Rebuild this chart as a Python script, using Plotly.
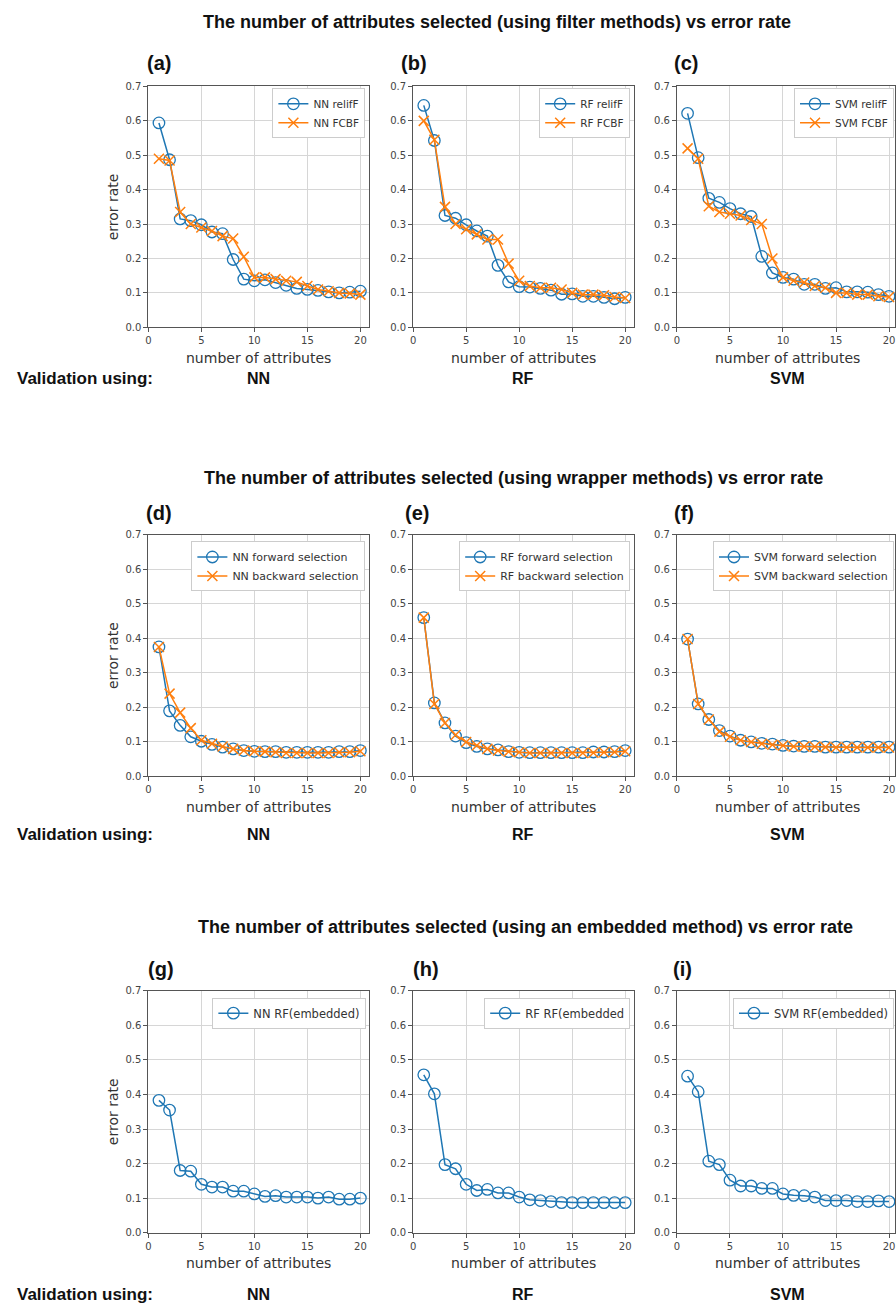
import plotly.graph_objects as go

W, H = 896, 1316

x_attr = list(range(1, 21))

# Row 1: filter methods
nn_relieff = [0.594, 0.487, 0.315, 0.310, 0.298, 0.277, 0.272, 0.197, 0.140, 0.135,
              0.138, 0.130, 0.122, 0.113, 0.110, 0.107, 0.103, 0.100, 0.102, 0.105]
nn_fcbf = [0.490, 0.485, 0.335, 0.300, 0.290, 0.280, 0.265, 0.258, 0.205, 0.145,
           0.145, 0.140, 0.135, 0.132, 0.120, 0.110, 0.105, 0.100, 0.098, 0.095]
rf_relieff = [0.645, 0.543, 0.325, 0.317, 0.298, 0.280, 0.265, 0.180, 0.132, 0.118,
              0.117, 0.113, 0.108, 0.096, 0.097, 0.090, 0.090, 0.087, 0.083, 0.087]
rf_fcbf = [0.600, 0.545, 0.350, 0.300, 0.285, 0.270, 0.255, 0.255, 0.185, 0.135,
           0.120, 0.115, 0.115, 0.110, 0.100, 0.095, 0.095, 0.093, 0.088, 0.085]
svm_relieff = [0.622, 0.493, 0.375, 0.363, 0.345, 0.330, 0.322, 0.206, 0.158, 0.145,
               0.140, 0.125, 0.125, 0.113, 0.115, 0.103, 0.103, 0.102, 0.095, 0.090]
svm_fcbf = [0.520, 0.490, 0.352, 0.335, 0.330, 0.325, 0.312, 0.300, 0.200, 0.145,
            0.135, 0.130, 0.120, 0.115, 0.100, 0.100, 0.095, 0.095, 0.090, 0.088]

# Row 2: wrapper methods
nn_forward = [0.375, 0.190, 0.148, 0.115, 0.102, 0.093, 0.085, 0.080, 0.075, 0.073,
              0.072, 0.072, 0.070, 0.070, 0.070, 0.070, 0.070, 0.072, 0.072, 0.075]
nn_backward = [0.375, 0.240, 0.185, 0.140, 0.105, 0.095, 0.087, 0.080, 0.075, 0.073,
               0.072, 0.070, 0.068, 0.068, 0.068, 0.068, 0.068, 0.070, 0.070, 0.073]
rf_forward = [0.460, 0.213, 0.155, 0.117, 0.098, 0.087, 0.080, 0.077, 0.072, 0.070,
              0.069, 0.069, 0.069, 0.069, 0.069, 0.069, 0.071, 0.071, 0.072, 0.075]
rf_backward = [0.460, 0.210, 0.155, 0.120, 0.100, 0.090, 0.080, 0.075, 0.072, 0.070,
               0.068, 0.068, 0.068, 0.068, 0.068, 0.068, 0.069, 0.070, 0.071, 0.073]
svm_forward = [0.398, 0.210, 0.165, 0.133, 0.117, 0.105, 0.100, 0.096, 0.094, 0.090,
               0.088, 0.087, 0.087, 0.085, 0.085, 0.085, 0.085, 0.085, 0.085, 0.085]
svm_backward = [0.398, 0.210, 0.165, 0.130, 0.115, 0.105, 0.100, 0.095, 0.092, 0.090,
                0.087, 0.087, 0.086, 0.085, 0.084, 0.084, 0.084, 0.084, 0.084, 0.084]

# Row 3: embedded method
nn_embedded = [0.383, 0.355, 0.180, 0.178, 0.140, 0.132, 0.132, 0.120, 0.120, 0.112,
               0.105, 0.107, 0.103, 0.103, 0.103, 0.100, 0.103, 0.097, 0.097, 0.100]
rf_embedded = [0.457, 0.402, 0.197, 0.185, 0.140, 0.122, 0.125, 0.115, 0.115, 0.103,
               0.095, 0.093, 0.090, 0.087, 0.087, 0.087, 0.087, 0.087, 0.087, 0.087]
svm_embedded = [0.453, 0.408, 0.207, 0.197, 0.152, 0.135, 0.135, 0.128, 0.128, 0.112,
                0.108, 0.107, 0.103, 0.093, 0.093, 0.093, 0.090, 0.090, 0.092, 0.090]

row_titles = ["The number of attributes selected (using filter methods) vs error rate",
              "The number of attributes selected (using wrapper methods) vs error rate",
              "The number of attributes selected (using an embedded method) vs error rate"]
panel_letters = ["(a)", "(b)", "(c)", "(d)", "(e)", "(f)", "(g)", "(h)", "(i)"]
validators = ["NN", "RF", "SVM"]
x_ticks = [0, 5, 10, 15, 20]
y_ticks = [0.0, 0.1, 0.2, 0.3, 0.4, 0.5, 0.6, 0.7]

panels = [
    [("NN relifF", nn_relieff), ("NN FCBF", nn_fcbf)],
    [("RF relifF", rf_relieff), ("RF FCBF", rf_fcbf)],
    [("SVM relifF", svm_relieff), ("SVM FCBF", svm_fcbf)],
    [("NN forward selection", nn_forward), ("NN backward selection", nn_backward)],
    [("RF forward selection", rf_forward), ("RF backward selection", rf_backward)],
    [("SVM forward selection", svm_forward), ("SVM backward selection", svm_backward)],
    [("NN RF(embedded)", nn_embedded)],
    [("RF RF(embedded", rf_embedded)],
    [("SVM RF(embedded)", svm_embedded)],
]

BLUE = "#1f77b4"
ORANGE = "#ff7f0e"

# layout geometry (pixels)
PXU = 10.65
col_x0 = [146, 412, 677]
row_y = [(82, 325), (534, 778), (994, 1238)]
title_y = [17, 477, 930]
title_x = [496, 513, 525]
letter_pos = [[(157, 58), (413, 58), (686, 58)],
              [(157, 512), (416, 512), (684, 512)],
              [(159, 972), (425, 972), (683, 972)]]
val_y = [377, 836, 1300]
legend_right = [[364, 630, 895], [364, 630, 895], [365, 630, 895]]
legend_top = [84, 541, 1001]
legend_font = [10.5, 11, 11.5]

def px(xp):
    return xp / W

def py(yp):
    return 1 - yp / H

fig = go.Figure()
layout = {}
annotations = []

for i, series in enumerate(panels):
    r, c = divmod(i, 3)
    n = i + 1
    xa = "xaxis" if n == 1 else f"xaxis{n}"
    ya = "yaxis" if n == 1 else f"yaxis{n}"
    xref = "x" if n == 1 else f"x{n}"
    yref = "y" if n == 1 else f"y{n}"
    lg = "legend" if n == 1 else f"legend{n}"

    x0 = col_x0[c]
    x1 = min(x0 + 20.8 * PXU, W)
    xmax = (x1 - x0) / PXU
    y0p, y1p = row_y[r]

    for k, (name, vals) in enumerate(series):
        if k == 0:
            marker = dict(symbol="circle-open", size=11.5, color=BLUE, line=dict(width=1.3, color=BLUE))
            color = BLUE
        else:
            marker = dict(symbol="x-thin-open", size=10, color=ORANGE, line=dict(width=1.5, color=ORANGE))
            color = ORANGE
        fig.add_trace(go.Scatter(
            x=x_attr, y=vals, name=name, mode="lines+markers",
            line=dict(color=color, width=1.5), marker=marker,
            xaxis=xref, yaxis=yref, legend=lg, showlegend=True))

    common = dict(showgrid=True, gridcolor="#d6d6d6", gridwidth=1, zeroline=False,
                  showline=True, linecolor="#555555", linewidth=1, mirror=True,
                  ticks="outside", ticklen=4, tickcolor="#555555", tickwidth=1,
                  tickfont=dict(family="DejaVu Sans", size=10, color="#444444"))
    layout[xa] = dict(domain=[px(x0), px(x1)], range=[0, xmax], anchor=yref,
                      tickvals=x_ticks, **common)
    layout[ya] = dict(domain=[py(y1p), py(y0p)], range=[0, 0.7005], anchor=xref,
                      tickvals=y_ticks, tickformat=".1f", **common)

    layout[lg] = dict(x=px(legend_right[r][c]), y=py(legend_top[r]), xanchor="right", yanchor="top",
                      bgcolor="white", bordercolor="#cccccc", borderwidth=1,
                      font=dict(family="DejaVu Sans", size=legend_font[r], color="#333333"),
                      tracegroupgap=0, itemwidth=30)

    # panel letter
    lx, ly = letter_pos[r][c]
    annotations.append(dict(text=f"<b>{panel_letters[i]}</b>", x=px(lx), y=py(ly), xref="paper", yref="paper",
                            showarrow=False, xanchor="center", yanchor="middle",
                            font=dict(family="Liberation Sans", size=20, color="#111111")))
    # x axis label
    annotations.append(dict(text="number of attributes", x=px(x0 + 10.4 * PXU), y=py(y1p + 31),
                            xref="paper", yref="paper", showarrow=False, xanchor="center", yanchor="middle",
                            font=dict(family="DejaVu Sans", size=14, color="#333333")))
    # validator label
    annotations.append(dict(text=f"<b>{validators[c]}</b>", x=px(x0 + 10.4 * PXU), y=py(val_y[r]),
                            xref="paper", yref="paper", showarrow=False, xanchor="center", yanchor="middle",
                            font=dict(family="Liberation Sans", size=16, color="#111111")))
    if c == 0:
        annotations.append(dict(text="error rate", x=px(110), y=py((y0p + y1p) / 2), textangle=-90,
                                xref="paper", yref="paper", showarrow=False, xanchor="center", yanchor="middle",
                                font=dict(family="DejaVu Sans", size=14, color="#333333")))

for r in range(3):
    annotations.append(dict(text=f"<b>{row_titles[r]}</b>", x=px(title_x[r]), y=py(title_y[r]),
                            xref="paper", yref="paper", showarrow=False, xanchor="center", yanchor="middle",
                            font=dict(family="Liberation Sans", size=18, color="#111111")))
    annotations.append(dict(text="<b>Validation using:</b>", x=px(12), y=py(val_y[r]),
                            xref="paper", yref="paper", showarrow=False, xanchor="left", yanchor="middle",
                            font=dict(family="Liberation Sans", size=17, color="#111111")))

fig.update_layout(width=W, height=H, margin=dict(l=0, r=0, t=0, b=0),
                  paper_bgcolor="white", plot_bgcolor="white",
                  annotations=annotations, **layout)

fig.write_html("out.html")
